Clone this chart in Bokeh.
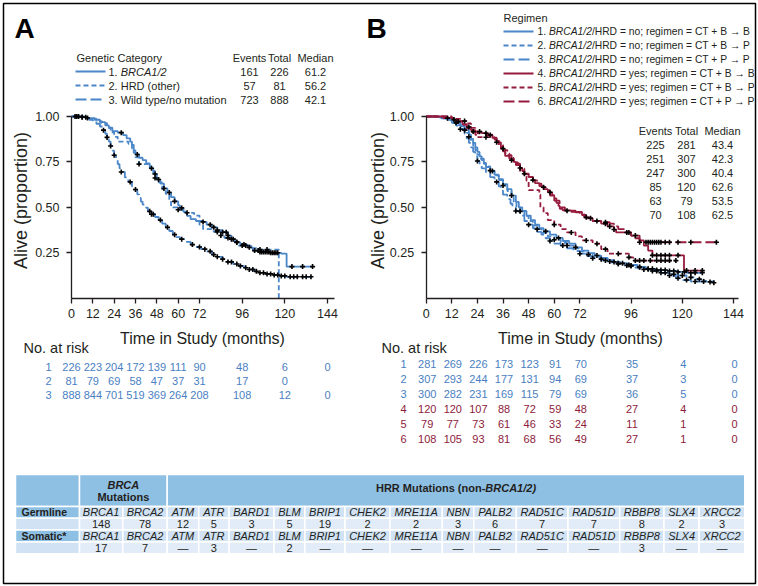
import math
from bokeh.plotting import figure
from bokeh.models import Range1d, LinearAxis, FixedTicker, PrintfTickFormatter
from bokeh.core.properties import value
from bokeh.embed import file_html
from bokeh.resources import INLINE

# ------------------------------------------------------------------ data
TICKS = [0, 12, 24, 36, 48, 60, 72, 96, 120, 144]
Y_TICKS = [0.25, 0.50, 0.75, 1.00]

# Panel A : genetic category
A_names = ["BRCA1/2", "HRD (other)", "Wild type/no mutation"]
A_events = [161, 57, 723]
A_total = [226, 81, 888]
A_median = [61.2, 56.2, 42.1]
A_risk = [
    [226, 223, 204, 172, 139, 111, 90, 48, 6, 0],
    [81, 79, 69, 58, 47, 37, 31, 17, 0, None],
    [888, 844, 701, 519, 369, 264, 208, 108, 12, 0],
]
A1_t = [0, 6, 9, 13, 16, 19, 21, 23, 26, 29, 31, 33, 34, 35, 36, 38, 40, 42, 44, 46, 48, 50, 52, 54, 56, 58, 60, 61, 63, 65, 67, 70, 74, 76, 79, 82, 85, 88, 90, 92, 95, 99, 102, 106, 112, 118, 121, 135.6]
A1_s = [1.0, .996, .991, .982, .969, .951, .938, .920, .911, .898, .880, .862, .844, .813, .791, .773, .760, .742, .715, .684, .653, .631, .604, .582, .556, .533, .511, .497, .475, .453, .435, .425, .420, .405, .390, .375, .363, .345, .325, .307, .295, .280, .262, .255, .250, .245, .174, .174]
A2_t = [0, 9, 14, 17, 20, 22, 24, 26, 32, 34, 35, 36, 38, 43, 45, 47, 49, 51, 53, 55, 56, 60, 64, 69, 72, 74, 80, 84, 86, 90, 94, 101, 104, 116.6]
A2_s = [1.0, .988, .975, .963, .938, .913, .888, .862, .850, .825, .800, .775, .738, .725, .700, .662, .637, .600, .575, .537, .500, .487, .470, .455, .405, .380, .365, .345, .332, .310, .290, .275, .268, 0.0]
A3_t = [0, 4, 7, 10, 12, 14, 16, 18, 19, 20, 21, 22, 23, 24, 25, 26, 27, 28, 30, 32, 34, 35, 37, 38, 39, 40, 42, 43, 45, 47, 49, 51, 53, 55, 57, 59, 61, 64, 67, 70, 73, 76, 79, 82, 85, 88, 91, 94, 97, 100, 103, 106, 109, 113, 117, 121, 134.7]
A3_s = [1.0, .997, .992, .982, .972, .960, .945, .925, .905, .885, .862, .838, .812, .787, .760, .738, .715, .695, .665, .640, .615, .598, .572, .552, .532, .515, .498, .478, .462, .447, .430, .410, .390, .370, .350, .336, .325, .310, .295, .282, .270, .258, .240, .228, .215, .200, .188, .178, .168, .158, .148, .140, .134, .128, .123, .118, .118]
A1_cens = [2, 4, 6, 8, 28, 37, 45, 47, 49, 52, 55, 58, 62, 74, 78, 80, 82, 85, 87, 88, 90, 91, 93, 97, 100, 103, 105, 106, 107, 108, 109, 110, 111, 112, 113, 114, 115, 116, 124, 130, 135.6]
A2_cens = [38, 47, 60, 65, 82, 84, 88, 93, 96, 98, 106, 110]
A3_cens = [3, 6, 9, 18, 20, 22, 24, 28, 33, 36, 44, 45, 46, 50, 54, 58, 62, 68, 72, 75, 78, 80, 82, 85, 88, 90, 93, 95, 98, 100, 102, 104, 106, 108, 110, 112, 114, 116, 118, 120, 123, 125, 127, 130, 132, 134.7]

# Panel B : regimen
B_hrd = ["no", "no", "no", "yes", "yes", "yes"]
B_regimen = ["CT + B \u2192 B", "CT + B \u2192 P", "CT + P \u2192 P",
             "CT + B \u2192 B", "CT + B \u2192 P", "CT + P \u2192 P"]
B_events = [225, 251, 247, 85, 63, 70]
B_total = [281, 307, 300, 120, 79, 108]
B_median = [43.4, 42.3, 40.4, 62.6, 53.5, 62.5]
B_risk = [
    [281, 269, 226, 173, 123, 91, 70, 35, 4, 0],
    [307, 293, 244, 177, 131, 94, 69, 37, 3, 0],
    [300, 282, 231, 169, 115, 79, 69, 36, 5, 0],
    [120, 120, 107, 88, 72, 59, 48, 27, 4, 0],
    [79, 77, 73, 61, 46, 33, 24, 11, 1, 0],
    [108, 105, 93, 81, 68, 56, 49, 27, 1, 0],
]
B1_t = [0, 6, 9, 12, 14, 16, 18, 20, 21, 22, 23, 24, 25, 26, 27, 28, 30, 32, 34, 36, 38, 40, 42, 43.4, 45, 47, 49, 51, 53, 55, 58, 61, 64, 67, 70, 73, 76, 79, 82, 85, 88, 91, 95, 99, 103, 108, 113, 118, 122, 129.4]
B1_s = [1.0, .996, .989, .978, .965, .947, .925, .900, .877, .855, .830, .805, .781, .760, .740, .722, .700, .680, .655, .628, .600, .565, .530, .500, .480, .455, .430, .405, .385, .368, .350, .332, .315, .300, .280, .262, .248, .235, .222, .210, .200, .192, .183, .172, .162, .155, .150, .145, .140, .140]
B2_t = [0, 5, 8, 11, 13, 15, 17, 19, 20, 21, 22, 23, 24, 25, 27, 28, 30, 32, 34, 36, 38, 40, 41, 42.3, 44, 46, 48, 50, 52, 54, 57, 60, 63, 66, 69, 72, 75, 78, 82, 86, 90, 94, 98, 102, 106, 110, 114, 118, 122, 126, 130, 133]
B2_s = [1.0, .997, .990, .980, .968, .952, .933, .910, .888, .862, .840, .815, .790, .768, .745, .725, .702, .676, .650, .620, .590, .556, .530, .500, .478, .452, .425, .400, .380, .360, .340, .322, .305, .290, .275, .258, .240, .228, .215, .202, .192, .180, .170, .160, .150, .140, .132, .125, .115, .105, .095, .090]
B3_t = [0, 4, 7, 10, 12, 14, 16, 18, 19, 20, 21, 22, 23, 24, 25, 26, 28, 30, 32, 34, 35, 36, 38, 39.5, 40.4, 42, 44, 46, 48, 50, 52, 54, 56, 58, 60, 63, 66, 69, 72, 75, 78, 82, 86, 90, 94, 98, 102, 106, 110, 114, 117, 120, 124, 134.8]
B3_s = [1.0, .997, .990, .980, .965, .950, .930, .905, .880, .855, .830, .805, .780, .755, .735, .715, .690, .666, .640, .615, .592, .570, .545, .520, .498, .480, .455, .425, .405, .385, .365, .350, .330, .315, .300, .290, .275, .260, .245, .232, .220, .208, .198, .188, .178, .168, .158, .150, .140, .125, .110, .100, .092, .085]
B4_t = [0, 10, 13, 15, 17, 19, 21, 23, 26, 29, 31, 33, 35, 36, 37, 39, 41, 42, 44, 45, 46, 48, 50, 51, 53, 55, 57, 59, 60, 61, 62, 62.6, 64, 68, 73, 75, 78, 82, 85, 88, 89, 96, 100, 102, 104, 106, 120.8, 129.4]
B4_s = [1.0, .992, .983, .975, .958, .942, .925, .917, .908, .900, .883, .858, .833, .808, .783, .767, .750, .733, .717, .700, .683, .667, .650, .633, .617, .600, .583, .567, .550, .525, .508, .492, .483, .475, .458, .440, .425, .410, .395, .378, .362, .345, .318, .290, .262, .236, .152, .152]
B5_t = [0, 12, 17, 19, 21, 23, 24, 32, 34, 35, 37, 39, 41, 43, 44, 46, 47, 48, 53, 53.5, 55, 57, 60, 63, 66, 70, 73, 78, 82, 85, 95, 97, 117]
B5_s = [1.0, .987, .975, .962, .937, .899, .886, .873, .848, .823, .797, .772, .747, .722, .696, .671, .646, .595, .570, .500, .468, .430, .405, .380, .362, .340, .318, .300, .270, .245, .225, .207, .207]
B6_t = [0, 8, 11, 14, 17, 19, 21, 24, 28, 31, 33, 34, 36, 38, 40, 42, 44, 46, 48, 50, 52, 54, 56, 58, 60, 62.5, 65, 70, 72, 74, 78, 82, 86, 88, 90, 93, 96, 98, 100, 136]
B6_s = [1.0, .991, .981, .972, .954, .935, .917, .907, .898, .880, .861, .843, .815, .787, .759, .740, .713, .685, .667, .648, .630, .611, .593, .565, .537, .500, .482, .472, .463, .445, .425, .418, .410, .395, .380, .362, .345, .330, .308, .308]
B1_cens = [14, 18, 31, 40, 56, 62, 70, 80, 88, 92, 95, 100, 104, 106, 108, 110, 112, 114, 116, 118, 121, 124, 126, 129.4]
B2_cens = [10, 20, 30, 36, 44, 52, 60, 66, 76, 82, 86, 90, 94, 96, 100, 104, 108, 112, 116, 120, 124, 128, 133]
B3_cens = [16, 24, 33, 42, 48, 58, 64, 72, 78, 84, 90, 96, 102, 106, 110, 114, 118, 122, 126, 130, 134.8]
B4_cens = [13, 20, 25, 28, 33, 44, 50, 58, 77, 80, 84, 86, 88, 94, 98, 106, 108, 110, 112, 114, 118, 122, 126, 129.4]
B5_cens = [18, 28, 36, 60, 68, 75, 80, 84, 90, 95, 98, 100, 102, 105, 108, 110, 112, 114, 117]
B6_cens = [15, 22, 30, 40, 46, 55, 66, 75, 84, 95, 100, 103, 104, 105, 106, 107, 108, 109, 110, 112, 114, 118, 124, 136]

# Mutation table
T_genes = ["BRCA1", "BRCA2", "ATM", "ATR", "BARD1", "BLM", "BRIP1", "CHEK2", "MRE11A",
           "NBN", "PALB2", "RAD51C", "RAD51D", "RBBP8", "SLX4", "XRCC2"]
T_germline = [148, 78, 12, 5, 3, 5, 19, 2, 2, 3, 6, 7, 7, 8, 2, 3]
T_somatic = [17, 7, None, 3, None, 2, None, None, None, None, None, None, None, 3, None, None]

# ------------------------------------------------------------------ layout / style
W, H = 758, 586
OX, OY = 0, 0
XA0, XA144 = 71.0, 327.0
XB0, XB144 = 425.7, 733.0
Y100, Y025 = 116.0, 252.3
KY = (Y025 - Y100) / 0.75
KA = (XA144 - XA0) / 144
KB = (XB144 - XB0) / 144

FONT = "Liberation Sans"
INK = "#231f20"
BLUE = "#4a86c8"
RED = "#961b3d"
BLUE_T = "#4a80c2"
RED_T = "#8e1a3b"
DASHES = ["solid", "5 3", "11 4"]

W_REG = {' ': 278, '.': 278, '/': 278, ';': 278, '=': 584, '+': 584, '\u2192': 1000,
         'A': 667, 'B': 667, 'C': 722, 'D': 722, 'H': 722, 'P': 667, 'R': 722, 'T': 611,
         'n': 556, 'o': 556, 'r': 333, 'e': 556, 'g': 556, 'i': 222, 'm': 833, 'y': 500, 's': 500}
W_BOLD = {'H': 722, 'R': 722, ' ': 278, 'M': 833, 'u': 611, 't': 333, 'a': 556, 'i': 278,
          'o': 611, 'n': 611, 's': 556, '(': 333, '-': 333, 'B': 722, 'C': 722, 'A': 722,
          '/': 278, ')': 333}


def twidth(s, size, table=W_REG):
    return sum(table.get(c, 556) for c in s) * size / 1000.0


s_bot = 1 - (OY + H - Y100) / KY
s_top = 1 + (Y100 - OY) / KY
p = figure(width=W, height=H,
           x_range=Range1d((OX - XA0) / KA, (OX + W - XA0) / KA),
           y_range=Range1d(s_bot, s_top),
           x_axis_type=None, y_axis_type=None, toolbar_location=None,
           output_backend="svg", min_border=0, outline_line_color=None)
p.extra_x_ranges = {"B": Range1d((OX - XB0) / KB, (OX + W - XB0) / KB),
                    "px": Range1d(OX, OX + W)}
p.extra_y_ranges = {"px": Range1d(OY + H, OY)}
p.background_fill_color = "white"
p.border_fill_color = "white"


def style_axis(ax):
    ax.axis_line_color = INK
    ax.axis_line_width = 1.3
    ax.major_tick_line_color = INK
    ax.major_tick_line_width = 1.3
    ax.major_tick_out = 5
    ax.major_tick_in = 0
    ax.minor_tick_line_color = None
    ax.major_label_text_font = FONT
    ax.major_label_text_font_size = "12.5px"
    ax.major_label_text_color = INK
    ax.major_label_standoff = 6


for rng, xb in (("default", 148), ("B", 146.5)):
    xa = LinearAxis(x_range_name=rng, ticker=FixedTicker(ticks=TICKS),
                    fixed_location=0, bounds=(0, xb))
    style_axis(xa)
    p.add_layout(xa, "below")
    ya = LinearAxis(x_range_name=rng, ticker=FixedTicker(ticks=Y_TICKS),
                    fixed_location=0, bounds=(0, 1),
                    formatter=PrintfTickFormatter(format="%.2f"))
    style_axis(ya)
    ya.major_label_standoff = 7
    p.add_layout(ya, "left")


def put(xs, ys, texts, size=11, align="left", style="normal", color=INK,
        xr="px", yr="px", angle=0.0):
    p.text(x=list(xs), y=list(ys), text=list(texts), x_range_name=xr, y_range_name=yr,
           text_font=value(FONT), text_font_size=f"{size}px", text_font_style=style,
           text_color=color, text_align=align, text_baseline="middle", angle=angle)


def surv_at(ts, ss, t):
    s = ss[0]
    for ti, si in zip(ts, ss):
        if ti <= t:
            s = si
        else:
            break
    return s


def draw_curves(curves, rng):
    for ts, ss, cens, color, dash in curves:
        p.step(ts, ss, mode="after", line_color=color, line_width=1.8,
               line_dash=dash, x_range_name=rng)
    for ts, ss, cens, color, dash in curves:
        p.scatter(cens, [surv_at(ts, ss, c) for c in cens], marker="cross", size=5,
                  line_color="black", line_width=1.6, x_range_name=rng)


draw_curves([
    (A1_t, A1_s, A1_cens, BLUE, DASHES[0]),
    (A2_t, A2_s, A2_cens, BLUE, DASHES[1]),
    (A3_t, A3_s, A3_cens, BLUE, DASHES[2]),
], "default")
draw_curves([
    (B1_t, B1_s, B1_cens, BLUE, DASHES[0]),
    (B2_t, B2_s, B2_cens, BLUE, DASHES[1]),
    (B3_t, B3_s, B3_cens, BLUE, DASHES[2]),
    (B4_t, B4_s, B4_cens, RED, DASHES[0]),
    (B5_t, B5_s, B5_cens, RED, DASHES[1]),
    (B6_t, B6_s, B6_cens, RED, DASHES[2]),
], "B")

# panel letters
put([14], [28], ["A"], size=28, style="bold", color="black")
put([366], [28], ["B"], size=28, style="bold", color="black")

# axis titles
for cx in (20, 377):
    put([cx], [200], ["Alive (proportion)"], size=18, align="center", angle=math.pi / 2)
put([202, 580], [338, 338], ["Time in Study (months)"] * 2, size=16, align="center")

# ---- legend A
LA_rows = [71, 85, 99]
put([76], [57], ["Genetic Category"], size=11)
put([249, 279, 315], [57] * 3, ["Events", "Total", "Median"], size=11, align="center")
for i, y in enumerate(LA_rows):
    p.segment(x0=[75], x1=[105], y0=[y], y1=[y], line_color=BLUE, line_width=2,
              line_dash=DASHES[i], x_range_name="px", y_range_name="px")
put([108] * 3, LA_rows, [f"{i + 1}. " if i == 0 else f"{i + 1}. {A_names[i]}" for i in range(3)], size=11)
put([108 + twidth("1. ", 11)], [LA_rows[0]], [A_names[0]], size=11, style="italic")
put([249] * 3, LA_rows, [str(v) for v in A_events], size=11, align="center")
put([279] * 3, LA_rows, [str(v) for v in A_total], size=11, align="center")
put([315] * 3, LA_rows, [f"{v:.1f}" for v in A_median], size=11, align="center")

# ---- legend B
LB_rows = [31, 45, 59, 73, 87, 101]
FB = 10.3
put([503], [17], ["Regimen"], size=11)
for i, y in enumerate(LB_rows):
    col = BLUE if i < 3 else RED
    p.segment(x0=[503], x1=[533], y0=[y], y1=[y], line_color=col, line_width=2,
              line_dash=DASHES[i % 3], x_range_name="px", y_range_name="px")
    pre = f"{i + 1}. "
    x0 = 537
    x1 = x0 + twidth(pre, FB)
    x2 = x1 + twidth("BRCA1/2", FB)
    put([x0], [y], [pre], size=FB)
    put([x1], [y], ["BRCA1/2"], size=FB, style="italic")
    put([x2], [y], [f"/HRD = {B_hrd[i]}; regimen = {B_regimen[i]}"], size=FB)

LB_stat_rows = [144, 158, 172, 186, 200, 214]
put([655, 686, 722], [130] * 3, ["Events", "Total", "Median"], size=11, align="center")
put([655] * 6, LB_stat_rows, [str(v) for v in B_events], size=11, align="center")
put([686] * 6, LB_stat_rows, [str(v) for v in B_total], size=11, align="center")
put([722] * 6, LB_stat_rows, [f"{v:.1f}" for v in B_median], size=11, align="center")

# ---- numbers at risk
put([23, 381], [347, 347], ["No. at risk"] * 2, size=14.5)
RA_rows = [366, 380, 394]
for i, row in enumerate(A_risk):
    put([48], [RA_rows[i]], [str(i + 1)], size=11, align="center", color=BLUE_T)
    xs = [t for t, v in zip(TICKS, row) if v is not None]
    vs = [str(v) for v in row if v is not None]
    put(xs, [RA_rows[i]] * len(xs), vs, size=11, align="center", color=BLUE_T, xr="default")
RB_rows = [363.5, 378.5, 393.5, 408.5, 423.5, 438]
for i, row in enumerate(B_risk):
    col = BLUE_T if i < 3 else RED_T
    put([403], [RB_rows[i]], [str(i + 1)], size=11, align="center", color=col)
    put([t + 1.0 / KB for t in TICKS], [RB_rows[i]] * len(TICKS), [str(v) for v in row],
        size=11, align="center", color=col, xr="B")

# ---- mutation table
T_LEFT = 15.0
COL_W = [64, 43.3, 44.4, 31.5, 30.3, 45, 30.9, 40.1, 45, 52.3, 31.5, 42.5, 51.7, 51.7, 44.3, 35.2, 45.6]
ROW_EDGES = [474, 506, 517.8, 529.6, 541.4, 553.2]
C_HEAD = "#8ec0e4"
C_GENE = "#d0e2f3"
C_VAL = "#e2ecf8"
edges = [T_LEFT]
for w in COL_W:
    edges.append(edges[-1] + w)

hl = [edges[0], edges[1], edges[3]]
hr = [edges[1], edges[3], edges[-1]]
p.quad(left=hl, right=hr, top=[ROW_EDGES[0]] * 3, bottom=[ROW_EDGES[1]] * 3,
       fill_color=C_HEAD, line_color="white", line_width=1.5, x_range_name="px", y_range_name="px")
ql, qr, qt, qb, qc = [], [], [], [], []
for r in range(4):
    for c in range(len(COL_W)):
        ql.append(edges[c]); qr.append(edges[c + 1])
        qt.append(ROW_EDGES[r + 1]); qb.append(ROW_EDGES[r + 2])
        if c == 0:
            qc.append(C_HEAD if r % 2 == 0 else C_GENE)
        else:
            qc.append(C_GENE if r % 2 == 0 else C_VAL)
p.quad(left=ql, right=qr, top=qt, bottom=qb, fill_color=qc, line_color="white",
       line_width=1.5, x_range_name="px", y_range_name="px")

bx = (edges[1] + edges[3]) / 2
put([bx], [484], ["BRCA"], size=11, align="center", style="bold italic")
put([bx], [496.5], ["Mutations"], size=11, align="center", style="bold")
FH = 11
h1 = "HRR Mutations (non-"
h2 = "BRCA1/2)"
wtot = twidth(h1, FH, W_BOLD) + twidth(h2, FH, W_BOLD)
hx = (edges[3] + edges[-1]) / 2 - wtot / 2 + twidth(h1, FH, W_BOLD)
put([hx], [487], [h1], size=FH, align="right", style="bold")
put([hx], [487], [h2], size=FH, align="left", style="bold italic")

row_c = [(ROW_EDGES[k] + ROW_EDGES[k + 1]) / 2 for k in range(1, 5)]
put([edges[0] + 6] * 2, [row_c[0], row_c[2]], ["Germline", "Somatic*"], size=10.5, style="bold")
gx = [(edges[c] + edges[c + 1]) / 2 for c in range(1, len(COL_W))]
put(gx, [row_c[0]] * len(gx), T_genes, size=11, align="center", style="italic")
put(gx, [row_c[1]] * len(gx), [str(v) for v in T_germline], size=11, align="center")
put(gx, [row_c[2]] * len(gx), T_genes, size=11, align="center", style="italic")
put(gx, [row_c[3]] * len(gx), [str(v) if v is not None else "\u2014" for v in T_somatic],
    size=11, align="center")

# page frame
p.quad(left=[3], right=[755], top=[3], bottom=[583], fill_color=None, line_color="black",
       line_width=1.5, x_range_name="px", y_range_name="px")

open("out.html", "w").write(file_html(p, INLINE))
